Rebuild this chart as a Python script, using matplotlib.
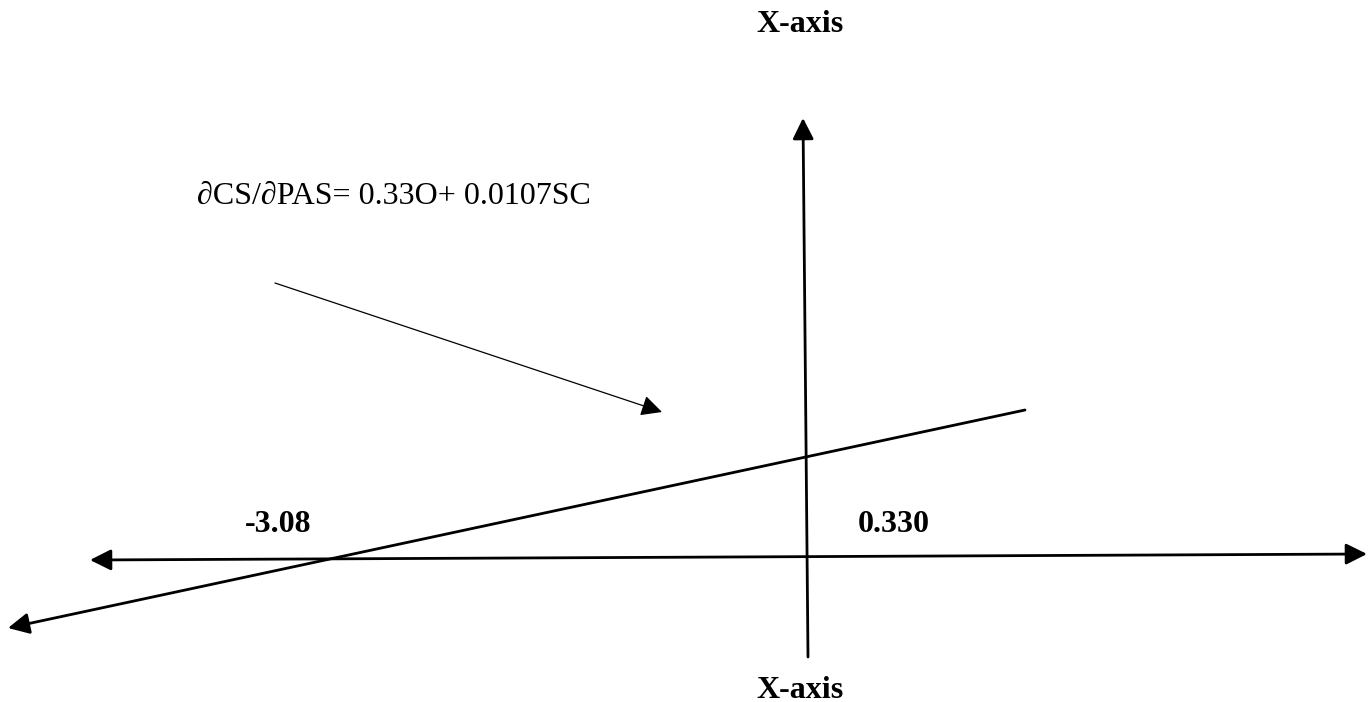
import matplotlib.pyplot as plt

# Подписи
top_label = 'X-axis'
bottom_label = 'X-axis'
equation = '\u2202CS/\u2202PAS= 0.33O+ 0.0107SC'
left_value = '-3.08'
right_value = '0.330'

# Концы линий (в пикселях картинки, y вниз)
horiz_x = [90, 1367]
horiz_y = [560, 554]
vert_x = [808, 803]
vert_y = [657, 118]
slant_x = [1025, 8]
slant_y = [410, 628]
pointer_x = [275, 662]
pointer_y = [283, 412]

fig = plt.figure(figsize=(13.68, 7.02), dpi=100)
ax = fig.add_axes([0, 0, 1, 1])
ax.set_xlim(0, 1368)
ax.set_ylim(702, 0)
ax.axis('off')

serif = ['Liberation Serif', 'DejaVu Serif']

# Горизонтальная ось (стрелки в обе стороны)
ax.annotate('', xy=(horiz_x[1], horiz_y[1]), xytext=(horiz_x[0], horiz_y[0]),
            arrowprops=dict(arrowstyle='<|-|>', color='black', lw=2.0,
                            mutation_scale=32, shrinkA=0, shrinkB=0))
# Вертикальная ось
ax.annotate('', xy=(vert_x[1], vert_y[1]), xytext=(vert_x[0], vert_y[0]),
            arrowprops=dict(arrowstyle='-|>', color='black', lw=2.0,
                            mutation_scale=32, shrinkA=0, shrinkB=0))
# Наклонная линия
ax.annotate('', xy=(slant_x[1], slant_y[1]), xytext=(slant_x[0], slant_y[0]),
            arrowprops=dict(arrowstyle='-|>', color='black', lw=2.0,
                            mutation_scale=32, shrinkA=0, shrinkB=0))
# Указатель от формулы
ax.annotate('', xy=(pointer_x[1], pointer_y[1]), xytext=(pointer_x[0], pointer_y[0]),
            arrowprops=dict(arrowstyle='-|>', color='black', lw=0.9,
                            mutation_scale=32, shrinkA=0, shrinkB=0))

# Тексты
ax.text(800, 24, top_label, fontsize=23, fontweight='bold', family=serif,
        ha='center', va='center')
ax.text(800, 690, bottom_label, fontsize=23, fontweight='bold', family=serif,
        ha='center', va='center')
ax.text(197, 196, equation, fontsize=23, family=serif, ha='left', va='center')
ax.text(245, 524, left_value, fontsize=23, fontweight='bold', family=serif,
        ha='left', va='center')
ax.text(858, 524, right_value, fontsize=23, fontweight='bold', family=serif,
        ha='left', va='center')

fig.savefig('out.png', dpi=100)
